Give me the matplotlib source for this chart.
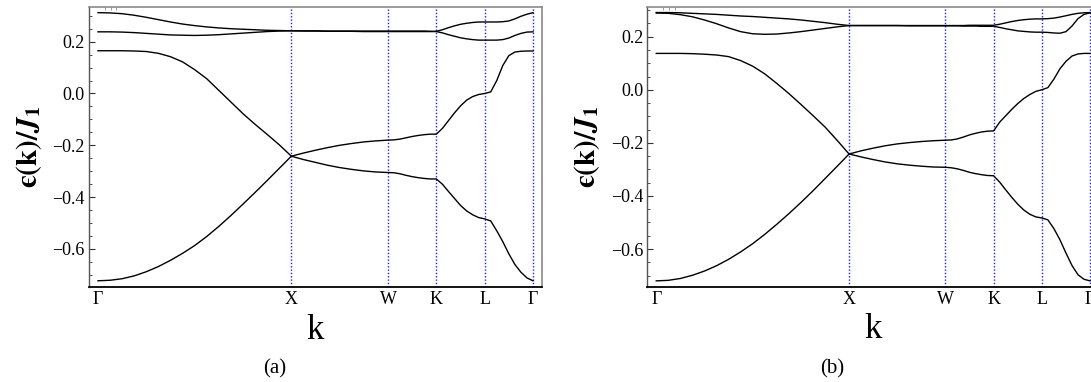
import matplotlib
matplotlib.use('Agg')
import matplotlib.pyplot as plt
from matplotlib.ticker import MultipleLocator, FuncFormatter, FixedLocator

plt.rcParams['font.family'] = ['Liberation Serif', 'DejaVu Serif']
plt.rcParams['mathtext.fontset'] = 'stix'

# k-path sample positions (Γ=0, X=4, W=6, K=7, L=8, Γ=9)
K = [0, 0.25, 0.5, 0.75, 1, 1.25, 1.5, 1.75, 2, 2.25, 2.5, 2.75, 3, 3.25, 3.5, 3.75, 4,
     4.25, 4.5, 4.75, 5, 5.25, 5.5, 5.75, 6,
     6.125, 6.25, 6.375, 6.5, 6.625, 6.75, 6.875, 7,
     7.125, 7.25, 7.375, 7.5, 7.625, 7.75, 7.875, 8,
     8.125, 8.25, 8.375, 8.5, 8.625, 8.75, 8.875, 9]
K_TICKS = [0, 4, 6, 7, 8, 9]
K_LABELS = ['Γ', 'X', 'W', 'K', 'L', 'Γ']

# panel (a)
A1 = [-0.723, -0.721, -0.715, -0.704, -0.688, -0.668, -0.644, -0.617, -0.587, -0.552, -0.513, -0.471, -0.427, -0.382, -0.336, -0.289, -0.242,
      -0.255, -0.266, -0.277, -0.286, -0.293, -0.299, -0.303, -0.305,
      -0.306, -0.310, -0.316, -0.321, -0.325, -0.328, -0.330, -0.330,
      -0.350, -0.378, -0.405, -0.432, -0.453, -0.468, -0.479, -0.484,
      -0.492, -0.530, -0.572, -0.619, -0.660, -0.690, -0.712, -0.723]
A2 = [0.165, 0.165, 0.165, 0.164, 0.162, 0.155, 0.142, 0.122, 0.092, 0.057, 0.012, -0.033, -0.078, -0.119, -0.158, -0.198, -0.242,
      -0.230, -0.219, -0.209, -0.200, -0.193, -0.187, -0.183, -0.180,
      -0.179, -0.176, -0.171, -0.166, -0.162, -0.159, -0.157, -0.157,
      -0.135, -0.105, -0.075, -0.048, -0.026, -0.012, -0.004, 0.000,
      0.006, 0.050, 0.108, 0.146, 0.160, 0.163, 0.164, 0.164]
A3 = [0.238, 0.238, 0.237, 0.235, 0.232, 0.229, 0.226, 0.225, 0.224, 0.225, 0.227, 0.230, 0.233, 0.236, 0.239, 0.241, 0.242,
      0.241, 0.241, 0.240, 0.240, 0.240, 0.239, 0.239, 0.239,
      0.239, 0.239, 0.239, 0.239, 0.239, 0.239, 0.239, 0.239,
      0.234, 0.227, 0.221, 0.215, 0.211, 0.208, 0.206, 0.206,
      0.206, 0.206, 0.208, 0.214, 0.224, 0.232, 0.237, 0.238]
A4 = [0.312, 0.311, 0.308, 0.302, 0.294, 0.285, 0.276, 0.268, 0.262, 0.257, 0.253, 0.250, 0.248, 0.246, 0.244, 0.243, 0.242,
      0.242, 0.242, 0.241, 0.241, 0.241, 0.241, 0.241, 0.241,
      0.241, 0.241, 0.241, 0.241, 0.241, 0.241, 0.240, 0.240,
      0.246, 0.254, 0.261, 0.267, 0.271, 0.274, 0.276, 0.276,
      0.276, 0.276, 0.277, 0.280, 0.288, 0.298, 0.306, 0.312]

# panel (b)
B1 = [-0.720, -0.718, -0.711, -0.699, -0.683, -0.663, -0.639, -0.611, -0.580, -0.545, -0.507, -0.467, -0.425, -0.381, -0.335, -0.289, -0.242,
      -0.253, -0.263, -0.272, -0.279, -0.284, -0.288, -0.291, -0.292,
      -0.294, -0.298, -0.304, -0.311, -0.316, -0.320, -0.323, -0.324,
      -0.348, -0.377, -0.405, -0.431, -0.453, -0.469, -0.479, -0.483,
      -0.490, -0.523, -0.565, -0.615, -0.662, -0.697, -0.714, -0.720]
B2 = [0.137, 0.137, 0.137, 0.136, 0.134, 0.131, 0.125, 0.110, 0.089, 0.060, 0.024, -0.014, -0.055, -0.097, -0.140, -0.190, -0.242,
      -0.230, -0.220, -0.211, -0.204, -0.199, -0.195, -0.192, -0.190,
      -0.189, -0.185, -0.178, -0.170, -0.164, -0.159, -0.156, -0.155,
      -0.122, -0.098, -0.074, -0.052, -0.033, -0.018, -0.006, 0.000,
      0.008, 0.040, 0.079, 0.107, 0.127, 0.135, 0.137, 0.137]
B3 = [0.289, 0.288, 0.283, 0.275, 0.263, 0.249, 0.233, 0.219, 0.211, 0.209, 0.210, 0.214, 0.219, 0.225, 0.231, 0.237, 0.242,
      0.242, 0.242, 0.242, 0.242, 0.241, 0.241, 0.241, 0.241,
      0.241, 0.241, 0.240, 0.240, 0.240, 0.239, 0.239, 0.239,
      0.235, 0.230, 0.226, 0.222, 0.220, 0.218, 0.217, 0.217,
      0.216, 0.214, 0.213, 0.219, 0.240, 0.268, 0.284, 0.290]
B4 = [0.291, 0.291, 0.290, 0.288, 0.286, 0.284, 0.281, 0.278, 0.276, 0.273, 0.270, 0.267, 0.263, 0.258, 0.253, 0.247, 0.242,
      0.242, 0.242, 0.242, 0.242, 0.242, 0.242, 0.242, 0.242,
      0.242, 0.242, 0.242, 0.243, 0.243, 0.243, 0.243, 0.243,
      0.247, 0.252, 0.257, 0.261, 0.264, 0.266, 0.267, 0.267,
      0.268, 0.270, 0.274, 0.279, 0.284, 0.288, 0.290, 0.291]


def fmt(v, pos):
    if abs(v) < 1e-9:
        v = 0.0
    return ('%.1f' % v).replace('-', '\u2212')


W, H = 1091, 382
fig = plt.figure(figsize=(W / 100, H / 100), dpi=100)

panels = [
    dict(rect=[89 / W, 95 / H, 453 / W, 280.3 / H], bands=[A1, A2, A3, A4],
         ylim=(-0.747, 0.335), cap='(a)', capx=275),
    dict(rect=[647.3 / W, 95.3 / H, 451.7 / W, 280 / H], bands=[B1, B2, B3, B4],
         ylim=(-0.742, 0.313), cap='(b)', capx=832),
]

YLABEL = r'$\mathbf{ϵ(k)/}\boldsymbol{J}_{\mathbf{1}}$'

for p in panels:
    ax = fig.add_axes(p['rect'])
    for x in K_TICKS[1:]:
        ax.axvline(x, color='#1a1aff', ls=(0, (1.0, 1.4)), lw=1.0, zorder=1)
    for b in p['bands']:
        ax.plot(K, b, color='black', lw=1.0, zorder=2)
    ax.set_xlim(-0.186, 9.186)
    ax.set_ylim(*p['ylim'])
    ax.set_xticks(K_TICKS)
    ax.set_xticklabels(K_LABELS)
    ax.xaxis.set_minor_locator(FixedLocator([0, 0.14, 0.26, 0.38]))
    ax.tick_params(axis='x', which='major', length=0, pad=3, labelsize=13)
    ax.tick_params(axis='x', which='minor', bottom=False, top=True,
                   direction='in', length=2.5, width=0.6, color='#888888')
    ax.yaxis.set_major_locator(MultipleLocator(0.2))
    ax.yaxis.set_minor_locator(MultipleLocator(0.05))
    ax.yaxis.set_major_formatter(FuncFormatter(fmt))
    ax.tick_params(axis='y', which='major', direction='in', length=4, width=0.8,
                   pad=3, labelsize=13, color='#333333')
    ax.tick_params(axis='y', which='minor', direction='in', length=2, width=0.6,
                   color='#333333')
    for s in ('top', 'right'):
        ax.spines[s].set_color('#8a8a8a')
        ax.spines[s].set_linewidth(1.2)
    ax.spines['left'].set_color('#555555')
    ax.spines['left'].set_linewidth(1.0)
    ax.spines['bottom'].set_color('black')
    ax.spines['bottom'].set_linewidth(1.3)
    ax.set_xlabel('k', fontsize=25, labelpad=4)
    ax.set_ylabel(YLABEL, fontsize=21, labelpad=6)
    fig.text(p['capx'] / W, 1 - 369 / H, p['cap'], ha='center', va='center',
             fontsize=15)

fig.savefig('out.png', dpi=100)
